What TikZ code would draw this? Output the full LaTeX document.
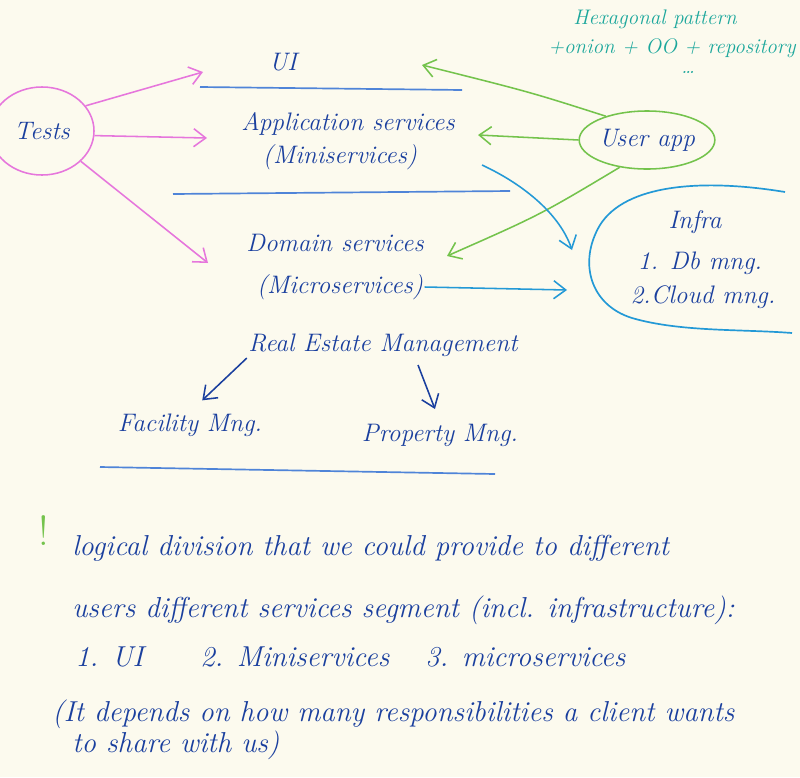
\documentclass[tikz,border=0pt]{standalone}
\usepackage{tikz}
\usetikzlibrary{positioning,arrows.meta,shapes.geometric}
\definecolor{paper}{HTML}{FCFAEE}
\definecolor{ink}{HTML}{1A3F9E}
\definecolor{rulepen}{HTML}{4F84D8}
\definecolor{pinkpen}{HTML}{E676DC}
\definecolor{greenpen}{HTML}{74C34C}
\definecolor{cyanpen}{HTML}{2399D6}
\definecolor{tealpen}{HTML}{1CA79C}

\begin{document}
\begin{tikzpicture}[
  x=0.025cm, y=-0.025cm,
  font=\fontsize{18}{21}\selectfont\itshape,
  lbl/.style={text=ink, inner sep=1pt},
  note/.style={text=tealpen, inner sep=1pt, font=\fontsize{15}{18}\selectfont\itshape},
  para/.style={text=ink, anchor=west, inner sep=0pt, font=\fontsize{20.5}{24}\selectfont\itshape},
  oval/.style={ellipse, draw, line width=1.1pt, text=ink, inner sep=0pt},
  layer/.style={rulepen, line width=1.2pt},
  pinkarr/.style={-{Straight Barb[length=3mm, width=4.5mm]}, pinkpen, line width=1.1pt},
  greenarr/.style={-{Straight Barb[length=3mm, width=4.5mm]}, greenpen, line width=1.1pt},
  cyanarr/.style={-{Straight Barb[length=3mm, width=4.5mm]}, cyanpen, line width=1.1pt},
  inkarr/.style={-{Straight Barb[length=3mm, width=4.5mm]}, ink, line width=1.1pt},
  ]
  \fill[paper, use as bounding box] (0,0) rectangle (800,777);

  % Note top right
  \node[note] (hex)   at (655,19) {Hexagonal pattern};
  \node[note] (onion) at (672,48) {+onion + OO + repository};
  \node[note] (dots)  at (688,72) {\dots};

  % Layers
  \node[lbl] (ui)       at (283,62)  {UI};
  \draw[layer] (200,87) -- (462,90);
  \node[lbl] (appsvc)   at (348,124) {Application services};
  \node[lbl] (minisvc)  at (340,157) {(Miniservices)};
  \draw[layer] (173,194) -- (510,191);
  \node[lbl] (domsvc)   at (335,243) {Domain services};
  \node[lbl] (microsvc) at (340,287) {(Microservices)};

  % Tests
  \node[oval, draw=pinkpen, minimum width=2.6cm, minimum height=2.2cm] (tests) at (42,131) {Tests};
  \coordinate (uiin)  at (203,72);
  \coordinate (appin) at (207,138);
  \coordinate (domin) at (208,263);
  \draw[pinkarr] (tests.30) -- (uiin);
  \draw[pinkarr] (tests.-5) -- (appin);
  \draw[pinkarr] (tests.-38) -- (domin);

  % User app
  \node[oval, draw=greenpen, minimum width=2.9cm, minimum height=1.45cm] (userapp) at (647,140) {User app};
  \coordinate (uigreen)  at (422,65);
  \coordinate (appgreen) at (478,135);
  \coordinate (domgreen) at (447,256);
  \draw[greenarr] (userapp.150) .. controls (530,92) .. (uigreen);
  \draw[greenarr] (userapp.west) -- (appgreen);
  \draw[greenarr] (userapp.-135) .. controls (540,215) .. (domgreen);

  % Infra
  \draw[cyanpen, line width=1.2pt] (785,192) .. controls (700,178) and (625,185) .. (600,225)
    .. controls (578,262) and (590,305) .. (632,318) .. controls (680,332) and (740,329) .. (792,333);
  \node[lbl] (infra)      at (695,222) {Infra};
  \node[lbl] (infradb)    at (700,263) {1. Db mng.};
  \node[lbl] (infracloud) at (703,297) {2.Cloud mng.};
  \coordinate (appout)    at (482,165);
  \coordinate (infratop)  at (572,250);
  \coordinate (infrawest) at (567,290);
  \draw[cyanarr] (appout) .. controls (525,185) and (560,215) .. (infratop);
  \draw[cyanarr] (microsvc.east) -- (infrawest);

  % Domain split
  \node[lbl] (rem)      at (383,345) {Real Estate Management};
  \node[lbl] (facility) at (190,425) {Facility Mng.};
  \node[lbl] (property) at (440,435) {Property Mng.};
  \coordinate (remright) at (418,365);
  \draw[inkarr, shorten >=12pt] (rem.south west) -- (facility.north);
  \draw[inkarr, shorten >=10pt] (remright) -- (property.north);
  \draw[layer] (100,467) -- (495,474);

  % Remark
  \node[text=greenpen, inner sep=0pt, font=\fontsize{30}{32}\selectfont] (bang) at (44,531) {!};
  \node[para] (para1) at (72,548) {logical division that we could provide to different};
  \node[para] (para2) at (72,610) {users different services segment (incl. infrastructure):};
  \node[para] (list1) at (75,657) {1. UI};
  \node[para] (list2) at (200,657) {2. Miniservices};
  \node[para] (list3) at (425,657) {3. microservices};
  \node[para] (para4) at (52,714) {(It depends on how many responsibilities a client wants};
  \node[para] (para5) at (72,745) {to share with us)};
\end{tikzpicture}
\end{document}
